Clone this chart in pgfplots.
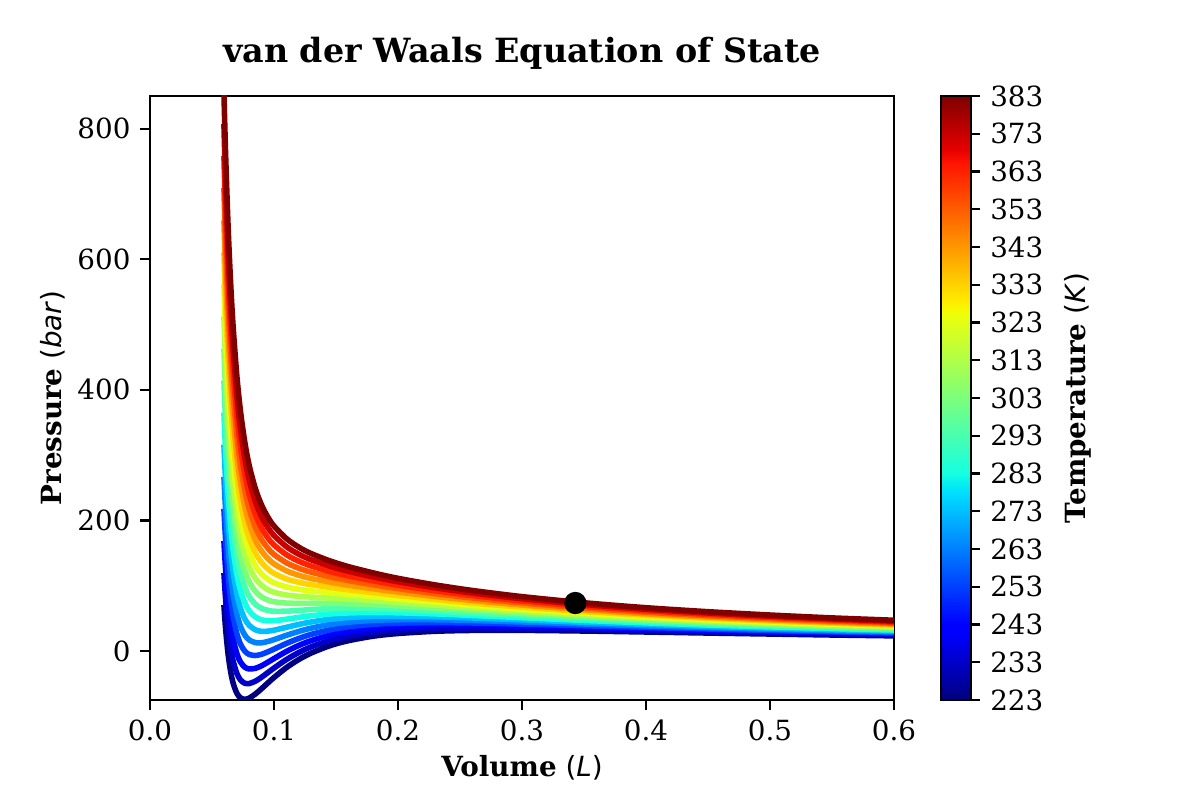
\documentclass[border=0pt]{standalone}
\usepackage{fontspec}
\setmainfont{DejaVu Serif}
\newfontfamily\dvs{DejaVu Sans}
\usepackage{pgfplots}
\usepackage{pgfplotstable}
\pgfplotsset{compat=1.18}

% matplotlib jet, sampled at the 17 temperatures
\definecolor{c0}{rgb}{0,0,0.5}
\definecolor{c1}{rgb}{0,0,0.784}
\definecolor{c2}{rgb}{0,0,1}
\definecolor{c3}{rgb}{0,0.25,1}
\definecolor{c4}{rgb}{0,0.5,1}
\definecolor{c5}{rgb}{0,0.75,1}
\definecolor{c6}{rgb}{0.081,1,0.887}
\definecolor{c7}{rgb}{0.282,1,0.685}
\definecolor{c8}{rgb}{0.484,1,0.484}
\definecolor{c9}{rgb}{0.685,1,0.282}
\definecolor{c10}{rgb}{0.887,1,0.081}
\definecolor{c11}{rgb}{1,0.824,0}
\definecolor{c12}{rgb}{1,0.593,0}
\definecolor{c13}{rgb}{1,0.361,0}
\definecolor{c14}{rgb}{1,0.130,0}
\definecolor{c15}{rgb}{0.784,0,0}
\definecolor{c16}{rgb}{0.5,0,0}

\pgfplotsset{colormap={mpljet}{
  rgb(0pt)=(0,0,0.5); rgb(110pt)=(0,0,1); rgb(125pt)=(0,0,1);
  rgb(340pt)=(0,0.86,1); rgb(350pt)=(0,0.9,0.968); rgb(375pt)=(0.081,1,0.887);
  rgb(640pt)=(0.935,1,0.032); rgb(650pt)=(0.968,0.963,0); rgb(660pt)=(1,0.926,0);
  rgb(890pt)=(1,0.074,0); rgb(910pt)=(0.909,0,0); rgb(1000pt)=(0.5,0,0)}}

% pressure (bar) against volume (L), one column per temperature (K)
\pgfplotstableread{
V      t223  t233  t243  t253  t263  t273  t283  t293  t303  t313  t323  t333  t343  t353  t363  t373  t383
0.0596 70.4  119.5 168.6 217.7 266.8 316.0 365.1 414.2 463.3 512.4 561.5 610.6 659.7 708.8 757.9 807.0 856.2
0.061  33.3  78.6  124.0 169.4 214.7 260.1 305.4 350.8 396.2 441.5 486.9 532.2 577.6 623.0 668.3 713.7 759.0
0.063  -5.1  35.8  76.7  117.6 158.5 199.4 240.3 281.2 322.1 363.0 403.9 444.8 485.7 526.6 567.5 608.3 649.2
0.065  -31.2 6.0   43.3  80.5  117.7 155.0 192.2 229.4 266.7 303.9 341.1 378.4 415.6 452.8 490.1 527.3 564.5
0.067  -48.9 -14.7 19.4  53.6  87.8  122.0 156.1 190.3 224.5 258.7 292.8 327.0 361.2 395.3 429.5 463.7 497.9
0.070  -64.5 -34.1 -3.7  26.8  57.2  87.6  118.0 148.5 178.9 209.3 239.7 270.1 300.6 331.0 361.4 391.8 422.2
0.073  -71.8 -44.4 -17.0 10.4  37.8  65.3  92.7  120.1 147.5 174.9 202.3 229.7 257.1 284.6 312.0 339.4 366.8
0.0765 -73.9 -49.4 -24.8 -0.2  24.4  49.0  73.5  98.1  122.7 147.3 171.8 196.4 221.0 245.6 270.1 294.7 319.3
0.080  -72.1 -49.8 -27.5 -5.3  17.0  39.3  61.5  83.8  106.1 128.4 150.6 172.9 195.2 217.4 239.7 262.0 284.3
0.085  -65.8 -46.2 -26.5 -6.9  12.8  32.4  52.1  71.7  91.3  111.0 130.6 150.3 169.9 189.5 209.2 228.8 248.5
0.090  -57.7 -40.1 -22.6 -5.0  12.6  30.1  47.7  65.3  82.8  100.4 118.0 135.5 153.1 170.7 188.2 205.8 223.4
0.095  -49.0 -33.1 -17.2 -1.3  14.6  30.4  46.3  62.2  78.1  94.0  109.9 125.8 141.7 157.5 173.4 189.3 205.2
0.100  -40.6 -26.1 -11.6 2.9   17.4  31.9  46.4  60.9  75.4  89.9  104.4 118.9 133.4 147.9 162.4 176.9 191.4
0.110  -25.4 -13.1 -0.7  11.6  24.0  36.3  48.7  61.0  73.4  85.7  98.1  110.4 122.8 135.1 147.5 159.8 172.2
0.120  -13.0 -2.3  8.5   19.2  30.0  40.7  51.5  62.2  73.0  83.7  94.5  105.2 116.0 126.7 137.5 148.2 159.0
0.130  -3.1  6.4   15.9  25.5  35.0  44.5  54.0  63.5  73.1  82.6  92.1  101.6 111.1 120.7 130.2 139.7 149.2
0.145  8.1   16.2  24.3  32.4  40.6  48.7  56.8  64.9  73.1  81.2  89.3  97.5  105.6 113.7 121.8 130.0 138.1
0.160  15.8  22.9  30.0  37.1  44.1  51.2  58.3  65.4  72.5  79.6  86.7  93.8  100.8 107.9 115.0 122.1 129.2
0.180  22.7  28.7  34.8  40.9  46.9  53.0  59.0  65.1  71.1  77.2  83.2  89.3  95.3  101.4 107.5 113.5 119.6
0.200  26.8  32.1  37.4  42.7  47.9  53.2  58.5  63.8  69.1  74.4  79.6  84.9  90.2  95.5  100.8 106.1 111.3
0.230  30.2  34.6  39.1  43.5  47.9  52.4  56.8  61.3  65.7  70.1  74.6  79.0  83.5  87.9  92.3  96.8  101.2
0.260  31.5  35.3  39.1  42.9  46.8  50.6  54.4  58.2  62.1  65.9  69.7  73.5  77.4  81.2  85.0  88.8  92.7
0.300  31.6  34.8  38.1  41.3  44.5  47.8  51.0  54.2  57.5  60.7  63.9  67.1  70.4  73.6  76.8  80.1  83.3
0.350  30.6  33.3  36.0  38.7  41.4  44.1  46.8  49.5  52.2  55.0  57.7  60.4  63.1  65.8  68.5  71.2  73.9
0.400  29.1  31.5  33.8  36.1  38.4  40.8  43.1  45.4  47.7  50.0  52.4  54.7  57.0  59.4  61.7  64.0  66.3
0.450  27.5  29.6  31.6  33.7  35.7  37.7  39.8  41.8  43.9  45.9  47.9  50.0  52.0  54.1  56.1  58.2  60.2
0.500  26.0  27.8  29.6  31.4  33.3  35.1  36.9  38.7  40.5  42.4  44.2  46.0  47.8  49.6  51.5  53.3  55.1
0.550  24.5  26.2  27.8  29.4  31.1  32.7  34.4  36.0  37.6  39.3  40.9  42.6  44.2  45.8  47.5  49.1  50.7
0.600  23.2  24.7  26.2  27.7  29.2  30.7  32.1  33.6  35.1  36.6  38.1  39.6  41.1  42.6  44.1  45.6  47.1
}\vdw

\begin{document}
\begin{tikzpicture}
\path (0,0) rectangle (432pt,288pt);
\begin{axis}[
  at={(54pt,36pt)}, anchor=south west,
  scale only axis, width=267.84pt, height=217.44pt,
  xmin=0, xmax=0.6, ymin=-75, ymax=850,
  xtick={0,0.1,0.2,0.3,0.4,0.5,0.6},
  ytick={0,200,400,600,800},
  xticklabel style={/pgf/number format/.cd, fixed, fixed zerofill, precision=1},
  tick label style={font=\fontsize{10}{12}\selectfont},
  /pgf/number format/assume math mode=true,
  tick pos=left, tick align=outside, major tick length=3.5pt,
  tick style={black, line width=0.8pt},
  axis line style={line width=0.8pt},
  title={van der Waals Equation of State},
  title style={font=\bfseries\fontsize{12}{14}\selectfont,
    at={(axis description cs:0.5,1)}, anchor=base, yshift=6pt, inner sep=0pt},
  xlabel={\textbf{Volume} {\dvs(\textit{L})}},
  ylabel={\textbf{Pressure} {\dvs(\textit{bar})}},
  label style={font=\fontsize{10}{12}\selectfont},
  xlabel style={at={([yshift=-27.7pt]axis description cs:0.5,0)}, anchor=base, inner sep=0pt},
  ylabel style={at={([xshift=-32pt]axis description cs:0,0.5)}, anchor=base, inner sep=0pt},
  colormap name=mpljet,
  point meta min=223, point meta max=383,
  colorbar,
  colorbar style={
    at={(parent axis.north east)}, anchor=north west, xshift=8.3pt,
    scale only axis, width=10.8pt, height=217.44pt,
    ytick={223,233,...,383},
    ytick pos=right, yticklabel pos=right, ytick align=outside,
    major tick length=3.5pt,
    tick style={black, line width=0.8pt},
    axis line style={line width=0.8pt},
    yticklabel style={font=\fontsize{10}{12}\selectfont},
    /pgf/number format/assume math mode=true,
    ylabel={\textbf{Temperature} {\dvs(\textit{K})}},
    ylabel style={font=\fontsize{10}{12}\selectfont,
      at={([xshift=41.4pt]axis description cs:1,0.5)}, anchor=base, inner sep=0pt},
  },
  every axis plot/.append style={line width=2pt, smooth},
]
\addplot[c0]  table[x=V, y=t223] {\vdw};
\addplot[c1]  table[x=V, y=t233] {\vdw};
\addplot[c2]  table[x=V, y=t243] {\vdw};
\addplot[c3]  table[x=V, y=t253] {\vdw};
\addplot[c4]  table[x=V, y=t263] {\vdw};
\addplot[c5]  table[x=V, y=t273] {\vdw};
\addplot[c6]  table[x=V, y=t283] {\vdw};
\addplot[c7]  table[x=V, y=t293] {\vdw};
\addplot[c8]  table[x=V, y=t303] {\vdw};
\addplot[c9]  table[x=V, y=t313] {\vdw};
\addplot[c10] table[x=V, y=t323] {\vdw};
\addplot[c11] table[x=V, y=t333] {\vdw};
\addplot[c12] table[x=V, y=t343] {\vdw};
\addplot[c13] table[x=V, y=t353] {\vdw};
\addplot[c14] table[x=V, y=t363] {\vdw};
\addplot[c15] table[x=V, y=t373] {\vdw};
\addplot[c16] table[x=V, y=t383] {\vdw};
\addplot[only marks, mark=*, mark size=3pt, black] coordinates {(0.343,73.5)};
\end{axis}
\end{tikzpicture}
\end{document}
